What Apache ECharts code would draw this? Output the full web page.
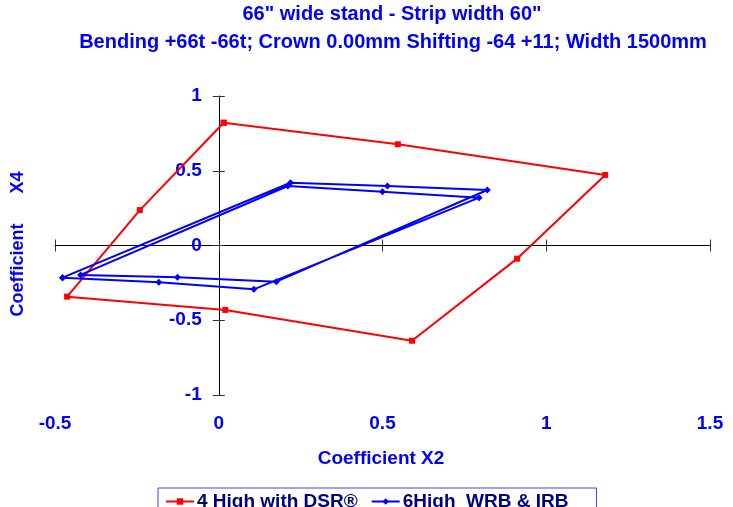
<!DOCTYPE html>
<html>
<head>
<meta charset="utf-8">
<script src="https://cdn.jsdelivr.net/npm/echarts@6/dist/echarts.min.js"></script>
<style>
html,body{margin:0;padding:0;background:#fff;}
#chart{width:733px;height:507px;}
</style>
</head>
<body>
<div id="chart"></div>
<script>
// ---- data ----
const titleLine1 = '66" wide stand - Strip width 60"';
const titleLine2 = 'Bending +66t -66t; Crown 0.00mm Shifting -64 +11; Width 1500mm';
const xAxisTitle = 'Coefficient X2';
const yAxisTitle = 'Coefficient      X4';
const seriesNames = ['4 High with DSR\u00AE', '6High  WRB & IRB'];

const redX = [0.015, 0.547, 1.180, 0.911, 0.590, 0.020, -0.463, -0.241, 0.015];
const redY = [0.821, 0.677, 0.472, -0.088, -0.637, -0.431, -0.342, 0.237, 0.821];

const blueX = [-0.477, 0.219, 0.515, 0.820, 0.176, -0.126, -0.422, 0.211, 0.500, 0.795, 0.107, -0.183, -0.477];
const blueY = [-0.215, 0.420, 0.398, 0.371, -0.242, -0.213, -0.197, 0.398, 0.360, 0.320, -0.293, -0.246, -0.215];

const xMin = -0.5, xMax = 1.5, xStep = 0.5;
const yMin = -1, yMax = 1, yStep = 0.5;

// ---- chart ----
const FONT = 'Liberation Sans, Arial, sans-serif';
const BLUE = '#0000ff';
const pairs = (xs, ys) => xs.map((x, i) => [x, ys[i]]);

const GRID = {left: 55, right: 23, top: 96, bottom: 112};
const PLOT_W = 733 - GRID.left - GRID.right;
// distance from the grid's left edge to x = 0 (where the y labels sit)
const yLabelOffset = -PLOT_W * (0 - xMin) / (xMax - xMin);

const chart = echarts.init(document.getElementById('chart'), null, {renderer: 'canvas'});
const labelStyle = {color: BLUE, fontFamily: FONT, fontWeight: 'bold', fontSize: 19};
const hidden = {show: false};
const tick = (inside) => ({show: true, length: 6, inside: inside, lineStyle: {color: '#333'}});

chart.setOption({
  animation: false,
  backgroundColor: '#ffffff',
  grid: Object.assign({containLabel: false}, GRID),
  xAxis: [
    { type: 'value', min: xMin, max: xMax, interval: xStep, position: 'bottom',
      axisLine: {show: false, onZero: false}, axisTick: hidden, splitLine: hidden,
      axisLabel: Object.assign({margin: 19}, labelStyle) },
    { type: 'value', min: xMin, max: xMax, interval: xStep, position: 'bottom',
      axisLine: {show: true, onZero: true, onZeroAxisIndex: 1, lineStyle: {color: '#000', width: 1}},
      axisTick: tick(false), axisLabel: hidden, splitLine: hidden },
    { type: 'value', min: xMin, max: xMax, interval: xStep, position: 'bottom',
      axisLine: {show: false, onZero: true, onZeroAxisIndex: 2},
      axisTick: tick(true), axisLabel: hidden, splitLine: hidden }
  ],
  yAxis: [
    { type: 'value', min: yMin, max: yMax, interval: yStep, position: 'left', offset: yLabelOffset,
      axisLine: {show: false, onZero: false}, axisTick: hidden, splitLine: hidden,
      axisLabel: Object.assign({margin: 17}, labelStyle) },
    { type: 'value', min: yMin, max: yMax, interval: yStep, position: 'left',
      axisLine: {show: true, onZero: true, onZeroAxisIndex: 1, lineStyle: {color: '#000', width: 1}},
      axisTick: tick(false), axisLabel: hidden, splitLine: hidden },
    { type: 'value', min: yMin, max: yMax, interval: yStep, position: 'left',
      axisLine: {show: false, onZero: true, onZeroAxisIndex: 2},
      axisTick: tick(true), axisLabel: hidden, splitLine: hidden }
  ],
  legend: {
    left: 158, top: 488,
    orient: 'horizontal',
    padding: [4, 28, 4, 7],
    itemGap: 13, itemWidth: 28, itemHeight: 8,
    borderColor: '#4040ff', borderWidth: 1,
    backgroundColor: '#fff',
    textStyle: {color: '#000080', fontFamily: FONT, fontWeight: 'bold', fontSize: 19, padding: [0, 0, 0, -2]},
    data: seriesNames
  },
  graphic: [
    { type: 'text', x: 392, y: 14, style: {text: titleLine1, fill: BLUE, font: 'bold 20px ' + FONT, textAlign: 'center', textVerticalAlign: 'middle'} },
    { type: 'text', x: 393, y: 42, style: {text: titleLine2, fill: BLUE, font: 'bold 20px ' + FONT, textAlign: 'center', textVerticalAlign: 'middle'} },
    { type: 'text', x: 381, y: 459, style: {text: xAxisTitle, fill: BLUE, font: 'bold 19px ' + FONT, textAlign: 'center', textVerticalAlign: 'middle'} },
    { type: 'text', x: 18, y: 244, rotation: Math.PI / 2, style: {text: yAxisTitle, fill: BLUE, font: 'bold 18px ' + FONT, textAlign: 'center', textVerticalAlign: 'middle'} }
  ],
  series: [
    { name: seriesNames[0], type: 'line', xAxisIndex: 0, yAxisIndex: 0,
      data: pairs(redX, redY), symbol: 'rect', symbolSize: 6, showAllSymbol: true,
      lineStyle: {color: '#ff0000', width: 2}, itemStyle: {color: '#ff0000'} },
    { name: seriesNames[1], type: 'line', xAxisIndex: 0, yAxisIndex: 0,
      data: pairs(blueX, blueY), symbol: 'diamond', symbolSize: 7, showAllSymbol: true,
      lineStyle: {color: '#0000ff', width: 2}, itemStyle: {color: '#0000ff'} }
  ]
});
</script>
</body>
</html>
